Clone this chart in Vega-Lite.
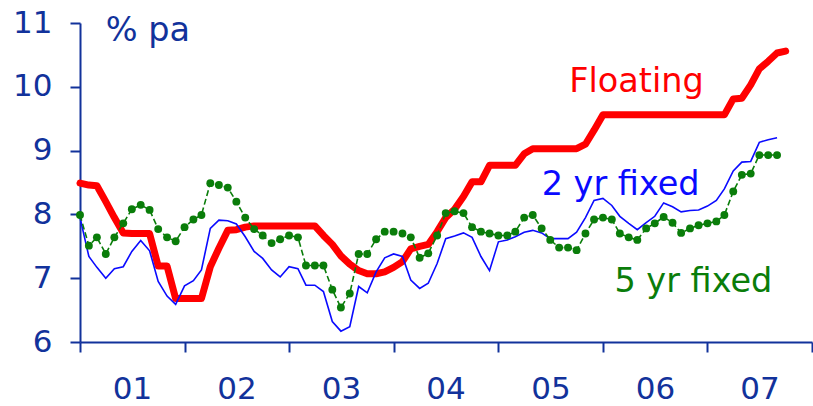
{
  "$schema": "https://vega.github.io/schema/vega-lite/v6.json",
  "autosize": {"type": "none"},
  "padding": {"left": 80, "top": 23, "right": 1, "bottom": 64},
  "width": 732,
  "height": 319,
  "background": "white",
  "config": {"view": {"stroke": null}},
  "datasets": {
    "rates": [
      {"month": "2001-01-01", "floating": 8.49, "fixed2": 7.95, "fixed5": 7.99},
      {"month": "2001-02-01", "floating": 8.46, "fixed2": 7.34, "fixed5": 7.51},
      {"month": "2001-03-01", "floating": 8.45, "fixed2": 7.17, "fixed5": 7.64},
      {"month": "2001-04-01", "floating": 8.20, "fixed2": 7.00, "fixed5": 7.38},
      {"month": "2001-05-01", "floating": 7.95, "fixed2": 7.15, "fixed5": 7.64},
      {"month": "2001-06-01", "floating": 7.71, "fixed2": 7.18, "fixed5": 7.86},
      {"month": "2001-07-01", "floating": 7.70, "fixed2": 7.42, "fixed5": 8.08},
      {"month": "2001-08-01", "floating": 7.70, "fixed2": 7.59, "fixed5": 8.15},
      {"month": "2001-09-01", "floating": 7.70, "fixed2": 7.43, "fixed5": 8.07},
      {"month": "2001-10-01", "floating": 7.19, "fixed2": 6.95, "fixed5": 7.77},
      {"month": "2001-11-01", "floating": 7.19, "fixed2": 6.72, "fixed5": 7.64},
      {"month": "2001-12-01", "floating": 6.68, "fixed2": 6.59, "fixed5": 7.58},
      {"month": "2002-01-01", "floating": 6.68, "fixed2": 6.88, "fixed5": 7.80},
      {"month": "2002-02-01", "floating": 6.68, "fixed2": 6.96, "fixed5": 7.92},
      {"month": "2002-03-01", "floating": 6.68, "fixed2": 7.13, "fixed5": 7.99},
      {"month": "2002-04-01", "floating": 7.18, "fixed2": 7.78, "fixed5": 8.49},
      {"month": "2002-05-01", "floating": 7.47, "fixed2": 7.91, "fixed5": 8.46},
      {"month": "2002-06-01", "floating": 7.75, "fixed2": 7.90, "fixed5": 8.42},
      {"month": "2002-07-01", "floating": 7.76, "fixed2": 7.85, "fixed5": 8.20},
      {"month": "2002-08-01", "floating": 7.80, "fixed2": 7.65, "fixed5": 7.95},
      {"month": "2002-09-01", "floating": 7.82, "fixed2": 7.42, "fixed5": 7.77},
      {"month": "2002-10-01", "floating": 7.82, "fixed2": 7.31, "fixed5": 7.67},
      {"month": "2002-11-01", "floating": 7.82, "fixed2": 7.13, "fixed5": 7.55},
      {"month": "2002-12-01", "floating": 7.82, "fixed2": 7.02, "fixed5": 7.61},
      {"month": "2003-01-01", "floating": 7.82, "fixed2": 7.18, "fixed5": 7.67},
      {"month": "2003-02-01", "floating": 7.82, "fixed2": 7.15, "fixed5": 7.64},
      {"month": "2003-03-01", "floating": 7.82, "fixed2": 6.89, "fixed5": 7.20},
      {"month": "2003-04-01", "floating": 7.82, "fixed2": 6.89, "fixed5": 7.20},
      {"month": "2003-05-01", "floating": 7.67, "fixed2": 6.79, "fixed5": 7.20},
      {"month": "2003-06-01", "floating": 7.53, "fixed2": 6.32, "fixed5": 6.82},
      {"month": "2003-07-01", "floating": 7.35, "fixed2": 6.17, "fixed5": 6.54},
      {"month": "2003-08-01", "floating": 7.22, "fixed2": 6.24, "fixed5": 6.76},
      {"month": "2003-09-01", "floating": 7.12, "fixed2": 6.87, "fixed5": 7.38},
      {"month": "2003-10-01", "floating": 7.07, "fixed2": 6.77, "fixed5": 7.38},
      {"month": "2003-11-01", "floating": 7.07, "fixed2": 7.10, "fixed5": 7.61},
      {"month": "2003-12-01", "floating": 7.10, "fixed2": 7.32, "fixed5": 7.73},
      {"month": "2004-01-01", "floating": 7.17, "fixed2": 7.38, "fixed5": 7.73},
      {"month": "2004-02-01", "floating": 7.26, "fixed2": 7.34, "fixed5": 7.70},
      {"month": "2004-03-01", "floating": 7.46, "fixed2": 6.97, "fixed5": 7.64},
      {"month": "2004-04-01", "floating": 7.50, "fixed2": 6.84, "fixed5": 7.32},
      {"month": "2004-05-01", "floating": 7.53, "fixed2": 6.92, "fixed5": 7.39},
      {"month": "2004-06-01", "floating": 7.73, "fixed2": 7.23, "fixed5": 7.67},
      {"month": "2004-07-01", "floating": 7.95, "fixed2": 7.62, "fixed5": 8.02},
      {"month": "2004-08-01", "floating": 8.08, "fixed2": 7.66, "fixed5": 8.05},
      {"month": "2004-09-01", "floating": 8.28, "fixed2": 7.71, "fixed5": 8.02},
      {"month": "2004-10-01", "floating": 8.51, "fixed2": 7.64, "fixed5": 7.80},
      {"month": "2004-11-01", "floating": 8.51, "fixed2": 7.34, "fixed5": 7.73},
      {"month": "2004-12-01", "floating": 8.77, "fixed2": 7.12, "fixed5": 7.70},
      {"month": "2005-01-01", "floating": 8.77, "fixed2": 7.57, "fixed5": 7.67},
      {"month": "2005-02-01", "floating": 8.77, "fixed2": 7.60, "fixed5": 7.67},
      {"month": "2005-03-01", "floating": 8.77, "fixed2": 7.65, "fixed5": 7.73},
      {"month": "2005-04-01", "floating": 8.95, "fixed2": 7.72, "fixed5": 7.95},
      {"month": "2005-05-01", "floating": 9.03, "fixed2": 7.75, "fixed5": 7.99},
      {"month": "2005-06-01", "floating": 9.03, "fixed2": 7.71, "fixed5": 7.78},
      {"month": "2005-07-01", "floating": 9.03, "fixed2": 7.62, "fixed5": 7.60},
      {"month": "2005-08-01", "floating": 9.03, "fixed2": 7.62, "fixed5": 7.48},
      {"month": "2005-09-01", "floating": 9.03, "fixed2": 7.62, "fixed5": 7.48},
      {"month": "2005-10-01", "floating": 9.03, "fixed2": 7.72, "fixed5": 7.44},
      {"month": "2005-11-01", "floating": 9.10, "fixed2": 7.95, "fixed5": 7.70},
      {"month": "2005-12-01", "floating": 9.32, "fixed2": 8.22, "fixed5": 7.92},
      {"month": "2006-01-01", "floating": 9.56, "fixed2": 8.25, "fixed5": 7.95},
      {"month": "2006-02-01", "floating": 9.56, "fixed2": 8.14, "fixed5": 7.92},
      {"month": "2006-03-01", "floating": 9.56, "fixed2": 7.97, "fixed5": 7.70},
      {"month": "2006-04-01", "floating": 9.56, "fixed2": 7.86, "fixed5": 7.64},
      {"month": "2006-05-01", "floating": 9.56, "fixed2": 7.76, "fixed5": 7.60},
      {"month": "2006-06-01", "floating": 9.56, "fixed2": 7.87, "fixed5": 7.78},
      {"month": "2006-07-01", "floating": 9.56, "fixed2": 7.97, "fixed5": 7.86},
      {"month": "2006-08-01", "floating": 9.56, "fixed2": 8.18, "fixed5": 7.96},
      {"month": "2006-09-01", "floating": 9.56, "fixed2": 8.12, "fixed5": 7.87},
      {"month": "2006-10-01", "floating": 9.56, "fixed2": 8.04, "fixed5": 7.71},
      {"month": "2006-11-01", "floating": 9.56, "fixed2": 8.06, "fixed5": 7.78},
      {"month": "2006-12-01", "floating": 9.56, "fixed2": 8.07, "fixed5": 7.83},
      {"month": "2007-01-01", "floating": 9.56, "fixed2": 8.13, "fixed5": 7.86},
      {"month": "2007-02-01", "floating": 9.56, "fixed2": 8.22, "fixed5": 7.89},
      {"month": "2007-03-01", "floating": 9.56, "fixed2": 8.40, "fixed5": 7.99},
      {"month": "2007-04-01", "floating": 9.81, "fixed2": 8.68, "fixed5": 8.36},
      {"month": "2007-05-01", "floating": 9.82, "fixed2": 8.82, "fixed5": 8.62},
      {"month": "2007-06-01", "floating": 10.03, "fixed2": 8.83, "fixed5": 8.64},
      {"month": "2007-07-01", "floating": 10.28, "fixed2": 9.13, "fixed5": 8.93},
      {"month": "2007-08-01", "floating": 10.40, "fixed2": 9.17, "fixed5": 8.93},
      {"month": "2007-09-01", "floating": 10.53, "fixed2": 9.20, "fixed5": 8.93},
      {"month": "2007-10-01", "floating": 10.56, "fixed2": null, "fixed5": null}
    ],
    "labels": [
      {"label": "Floating", "date": "2005-09-05", "value": 9.92},
      {"label": "2 yr fixed", "date": "2005-06-01", "value": 8.30},
      {"label": "5 yr fixed", "date": "2006-02-10", "value": 6.79},
      {"label": "% pa", "date": "2001-04-01", "value": 10.72}
    ]
  },
  "encoding": {
    "x": {
      "field": "month",
      "type": "temporal",
      "scale": {"type": "utc", "domain": [{"year": 2001, "month": 1, "date": 1, "utc": true}, {"year": 2008, "month": 1, "date": 1, "utc": true}], "nice": false},
      "axis": {
        "title": null,
        "grid": false,
        "values": [
          {"year": 2001, "utc": true}, {"year": 2002, "utc": true}, {"year": 2003, "utc": true}, {"year": 2004, "utc": true},
          {"year": 2005, "utc": true}, {"year": 2006, "utc": true}, {"year": 2007, "utc": true}, {"year": 2008, "utc": true}
        ],
        "labelExpr": "utcyear(datum.value) >= 2008 ? '' : utcFormat(datum.value, '%y')",
        "labelOffset": 52,
        "labelAlign": "center",
        "labelFlush": false,
        "labelOverlap": false,
        "labelBound": false,
        "labelPadding": 22,
        "labelFont": "DejaVu Sans",
        "labelFontSize": 31,
        "labelColor": "#12329b",
        "domainColor": "#12329b",
        "domainWidth": 2,
        "tickColor": "#12329b",
        "tickWidth": 2,
        "tickSize": 10
      }
    },
    "y": {
      "type": "quantitative",
      "scale": {"domain": [6, 11], "nice": false, "zero": false},
      "axis": {
        "title": null,
        "grid": false,
        "values": [6, 7, 8, 9, 10, 11],
        "format": "d",
        "labelPadding": 18,
        "labelFont": "DejaVu Sans",
        "labelFontSize": 31,
        "labelColor": "#12329b",
        "labelFlush": false,
        "labelOverlap": false,
        "labelBound": false,
        "domainColor": "#12329b",
        "domainWidth": 2,
        "tickColor": "#12329b",
        "tickWidth": 2,
        "tickSize": 10
      }
    }
  },
  "layer": [
    {
      "data": {"name": "rates"},
      "mark": {"type": "line", "color": "#ff0000", "strokeWidth": 7, "strokeCap": "round", "strokeJoin": "round"},
      "encoding": {"y": {"field": "floating", "type": "quantitative"}}
    },
    {
      "data": {"name": "rates"},
      "mark": {"type": "line", "color": "#0a0aff", "strokeWidth": 1.6},
      "encoding": {"y": {"field": "fixed2", "type": "quantitative"}}
    },
    {
      "data": {"name": "rates"},
      "mark": {"type": "line", "color": "#0a7d0a", "strokeWidth": 1.6, "strokeDash": [6, 3]},
      "encoding": {"y": {"field": "fixed5", "type": "quantitative"}}
    },
    {
      "data": {"name": "rates"},
      "mark": {"type": "circle", "color": "#0a7d0a", "opacity": 1, "size": 62},
      "encoding": {"y": {"field": "fixed5", "type": "quantitative"}}
    },
    {
      "data": {"name": "labels"},
      "mark": {"type": "text", "font": "DejaVu Sans", "fontSize": 33.5, "align": "left", "baseline": "alphabetic"},
      "encoding": {
        "x": {"field": "date", "type": "temporal"},
        "y": {"field": "value", "type": "quantitative"},
        "text": {"field": "label"},
        "color": {
          "field": "label",
          "type": "nominal",
          "scale": {"domain": ["Floating", "2 yr fixed", "5 yr fixed", "% pa"], "range": ["#ff0000", "#0a0aff", "#0a7d0a", "#12329b"]},
          "legend": null
        }
      }
    }
  ]
}
